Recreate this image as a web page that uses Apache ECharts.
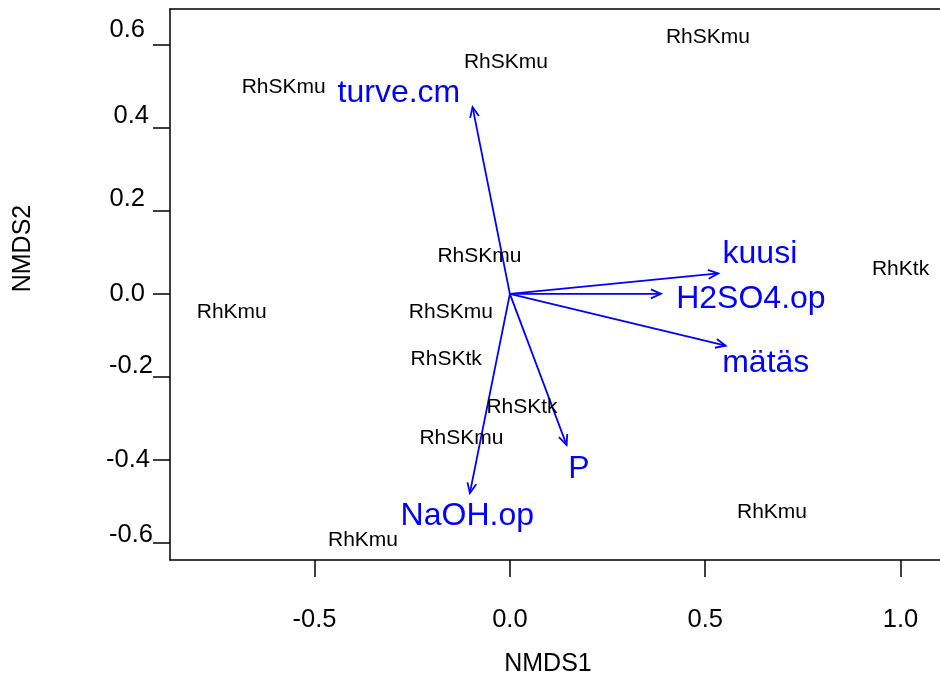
<!DOCTYPE html>
<html>
<head>
<meta charset="utf-8">
<script src="https://cdn.jsdelivr.net/npm/echarts@6/dist/echarts.min.js"></script>
<style>
html,body{margin:0;padding:0;background:#fff;}
#chart{width:940px;height:678px;}
</style>
</head>
<body>
<div id="chart"></div>
<script>
// ---- data ----
const xTicks = [-0.5, 0.0, 0.5, 1.0];
const yTicks = [-0.6, -0.4, -0.2, 0.0, 0.2, 0.4, 0.6];

const siteNames = ["RhSKmu","RhSKmu","RhSKmu","RhSKmu","RhKmu","RhSKmu","RhSKtk","RhSKtk","RhSKmu","RhKmu","RhKmu","RhKtk"];
const siteX = [-0.579, -0.010, 0.507, -0.078, -0.712, -0.151, -0.163, 0.031, -0.124, -0.376, 0.671, 1.000];
const siteY = [0.498, 0.557, 0.617, 0.090, -0.045, -0.044, -0.158, -0.274, -0.347, -0.593, -0.526, 0.0585];

const vecNames = ["turve.cm","kuusi","H2SO4.op","mätäs","P","NaOH.op"];
const vecX = [-0.0955, 0.5334, 0.3867, 0.5523, 0.1452, -0.1024];
const vecY = [0.4497, 0.0493, 0.0000, -0.1250, -0.3640, -0.4800];
const vecLabelX = [-0.284, 0.640, 0.617, 0.655, 0.177, -0.109];
const vecLabelY = [0.483, 0.096, -0.0125, -0.167, -0.422, -0.536];

// ---- chart ----
const FONT = '"Liberation Sans", Arial, Helvetica, sans-serif';
const chart = echarts.init(document.getElementById('chart'), null, {renderer: 'canvas'});

// per-label nudges of y tick labels (style only)
const yLabelStyle = {
  '-0.6': {up: 8, left: 0},
  '-0.4': {up: 0, left: 3},
  '-0.2': {up: 11, left: 0},
  '0.0': {up: 0, left: 8},
  '0.2': {up: 12, left: 8},
  '0.4': {up: 12, left: 4},
  '0.6': {up: 15, left: 8}
};
const yRich = {};
const yKey = {};
Object.keys(yLabelStyle).forEach((k, i) => {
  const s = yLabelStyle[k];
  const key = 'y' + i;
  yKey[k] = key;
  yRich[key] = {fontSize: 25.5, fontFamily: FONT, color: '#000', padding: [0, s.left, 2 * s.up, 0]};
});

const axisLineStyle = {color: '#000', width: 1.5};

const option = {
  animation: false,
  backgroundColor: '#fff',
  grid: {left: 170, top: 9, right: 0, height: 551, show: false, containLabel: false, outerBoundsMode: 'none'},
  xAxis: [
    {
      type: 'value', min: -0.87, max: 1.101,
      name: 'NMDS1', nameLocation: 'middle', nameGap: 92,
      nameTextStyle: {fontSize: 25, fontFamily: FONT, color: '#000', padding: [0, 14, 0, 0]},
      axisLine: {show: true, onZero: false, lineStyle: axisLineStyle},
      axisTick: {show: true, customValues: xTicks, length: 17, lineStyle: axisLineStyle},
      axisLabel: {show: true, customValues: xTicks, formatter: v => v.toFixed(1), fontSize: 25.5, fontFamily: FONT, color: '#000', margin: 47},
      splitLine: {show: false}
    },
    {
      type: 'value', min: -0.87, max: 1.101, position: 'top',
      axisLine: {show: true, onZero: false, lineStyle: axisLineStyle},
      axisTick: {show: false}, axisLabel: {show: false}, splitLine: {show: false}
    }
  ],
  yAxis: {
    type: 'value', min: -0.641, max: 0.686,
    name: 'NMDS2', nameLocation: 'middle', nameGap: 134, nameRotate: 90,
    nameTextStyle: {fontSize: 25, fontFamily: FONT, color: '#000', padding: [0, 0, 0, 72]},
    axisLine: {show: true, onZero: false, lineStyle: axisLineStyle},
    axisTick: {show: true, customValues: yTicks, length: 17, lineStyle: axisLineStyle},
    axisLabel: {
      show: true, customValues: yTicks, margin: 17,
      formatter: v => { const t = v.toFixed(1); return '{' + yKey[t] + '|' + t + '}'; },
      rich: yRich
    },
    splitLine: {show: false}
  },
  series: [
    {
      type: 'custom',
      clip: false,
      data: vecX.map((x, i) => [x, vecY[i]]),
      renderItem: function (params, api) {
        const s = api.coord([0, 0]);
        const e = api.coord([api.value(0), api.value(1)]);
        const ang = Math.atan2(e[1] - s[1], e[0] - s[0]);
        const L = 11, a = Math.PI / 7.5;
        const p1 = [e[0] - L * Math.cos(ang - a), e[1] - L * Math.sin(ang - a)];
        const p2 = [e[0] - L * Math.cos(ang + a), e[1] - L * Math.sin(ang + a)];
        const st = {stroke: '#0000FF', lineWidth: 1.8, fill: null};
        return {
          type: 'group',
          children: [
            {type: 'line', shape: {x1: s[0], y1: s[1], x2: e[0], y2: e[1]}, style: st},
            {type: 'polyline', shape: {points: [p1, e, p2]}, style: st}
          ]
        };
      }
    },
    {
      type: 'scatter',
      symbolSize: 1,
      itemStyle: {color: 'rgba(0,0,0,0)', opacity: 1},
      data: siteNames.map((n, i) => ({name: n, value: [siteX[i], siteY[i]]})),
      label: {show: true, position: 'inside', formatter: '{b}', fontSize: 21, fontFamily: FONT, color: '#000', opacity: 1},
      emphasis: {disabled: true}
    },
    {
      type: 'scatter',
      symbolSize: 1,
      itemStyle: {color: 'rgba(0,0,0,0)', opacity: 1},
      data: vecNames.map((n, i) => ({name: n, value: [vecLabelX[i], vecLabelY[i]]})),
      label: {show: true, position: 'inside', formatter: '{b}', fontSize: 32, fontFamily: FONT, color: '#0000FF', opacity: 1},
      emphasis: {disabled: true}
    }
  ]
};
chart.setOption(option);
</script>
</body>
</html>
